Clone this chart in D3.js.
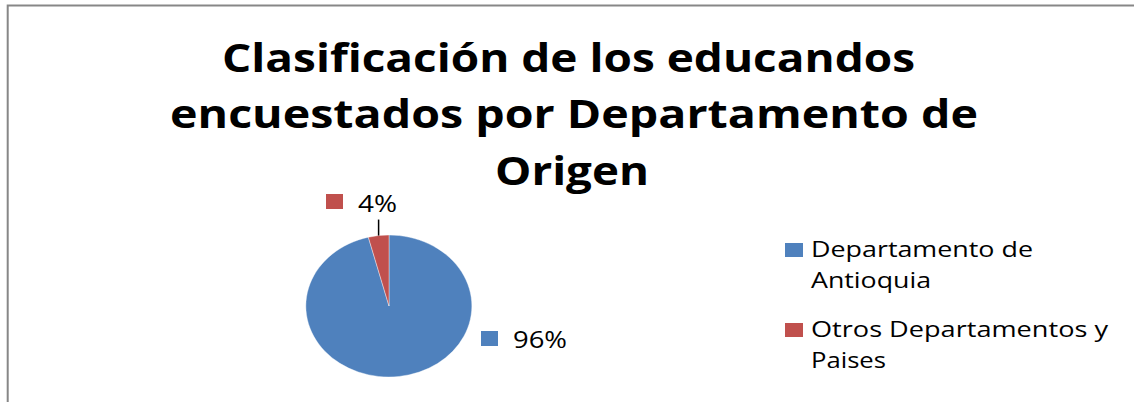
<!DOCTYPE html>
<html><head><meta charset="utf-8">
<script src="https://cdn.jsdelivr.net/npm/d3@7"></script>
<style>html,body{margin:0;padding:0;background:#fff;overflow:hidden}</style>
</head><body>
<script>
const titleLines = ["Clasificación de los educandos", "encuestados por Departamento de", "Origen"];
const categories = ["Departamento de Antioquia", "Otros Departamentos y Paises"];
const values = [96, 4];
const legendLines = [["Departamento de", "Antioquia"], ["Otros Departamentos y", "Paises"]];
const colors = ["#4F81BD", "#C0504D"];

const W = 1134, H = 402;
const svg = d3.select("body").append("svg").attr("width", W).attr("height", H);
svg.append("rect").attr("width", W).attr("height", H).attr("fill", "#fff");
// border
svg.append("path").attr("d", `M7.7,${H} V5.5 H${W}`).attr("fill", "none")
  .attr("stroke", "#878787").attr("stroke-width", 2);

const font = "'Open Sans', sans-serif";
// title
const titleSpec = [{y: 72, x0: 222, x1: 915}, {y: 128, x0: 170, x1: 978}, {y: 185, x0: 495, x1: 649}];
svg.append("g").selectAll("text").data(titleLines).join("text")
  .attr("x", (d, i) => titleSpec[i].x0).attr("y", (d, i) => titleSpec[i].y)
  .attr("textLength", (d, i) => titleSpec[i].x1 - titleSpec[i].x0)
  .attr("lengthAdjust", "spacingAndGlyphs")
  .attr("font-family", font).attr("font-weight", 700).attr("font-size", 40)
  .attr("fill", "#000").text(d => d);

// pie (ellipse)
const cx = 389, cy = 306, rx = 83, ry = 71;
const pie = d3.pie().sort(null).value(d => d)(values);
const arc = d3.arc().innerRadius(0).outerRadius(1);
const g = svg.append("g").attr("transform", `translate(${cx},${cy}) scale(${rx},${ry})`);
g.selectAll("path").data(pie).join("path")
  .attr("d", arc).attr("fill", (d, i) => colors[i])
  .attr("stroke", "#fff").attr("stroke-width", 0.4).attr("vector-effect", "non-scaling-stroke");

// leader line for small slice
const small = pie[1];
const mid = (small.startAngle + small.endAngle) / 2;
const lx = cx + rx * Math.sin(mid), ly = cy - ry * Math.cos(mid);
svg.append("line").attr("x1", lx).attr("y1", ly).attr("x2", lx).attr("y2", ly - 16)
  .attr("stroke", "#000").attr("stroke-width", 1.5);

// data labels
const labelSpec = [
  {kx: 481, ky: 331, tx: 513, ty: 348, tw: 54},
  {kx: 326, ky: 194, tx: 358, ty: 211.5, tw: 39}
];
const lab = svg.append("g").selectAll("g").data(values).join("g");
lab.append("rect").attr("x", (d, i) => labelSpec[i].kx).attr("y", (d, i) => labelSpec[i].ky)
  .attr("width", 17).attr("height", 15).attr("fill", (d, i) => colors[i]);
lab.append("text").attr("x", (d, i) => labelSpec[i].tx).attr("y", (d, i) => labelSpec[i].ty)
  .attr("textLength", (d, i) => labelSpec[i].tw).attr("lengthAdjust", "spacingAndGlyphs")
  .attr("font-family", font).attr("font-size", 23).attr("fill", "#000")
  .text(d => d + "%");

// legend
const legSpec = [
  {ky: 243, lines: [{y: 257, w: 222}, {y: 288, w: 120}]},
  {ky: 323, lines: [{y: 337, w: 297}, {y: 368, w: 75}]}
];
const leg = svg.append("g").selectAll("g").data(categories).join("g");
leg.append("rect").attr("x", 785).attr("y", (d, i) => legSpec[i].ky)
  .attr("width", 18).attr("height", 14).attr("fill", (d, i) => colors[i]);
leg.each(function(d, i) {
  d3.select(this).selectAll("text").data(legendLines[i]).join("text")
    .attr("x", 811).attr("y", (t, j) => legSpec[i].lines[j].y)
    .attr("textLength", (t, j) => legSpec[i].lines[j].w).attr("lengthAdjust", "spacingAndGlyphs")
    .attr("font-family", font).attr("font-size", 22).attr("fill", "#000")
    .text(t => t);
});
</script>
</body></html>
